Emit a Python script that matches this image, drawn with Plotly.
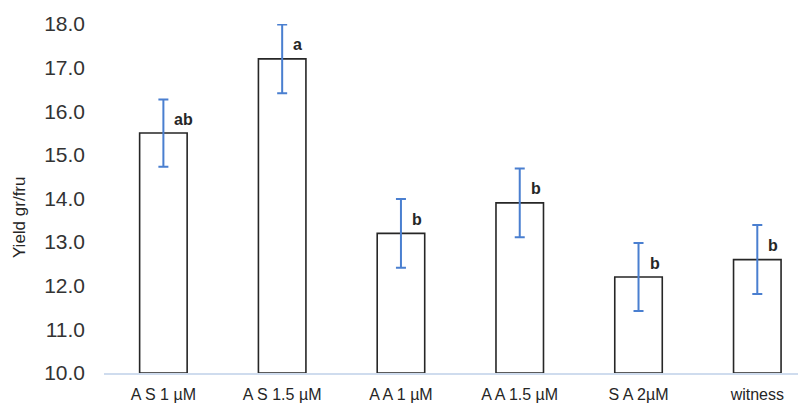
import plotly.graph_objects as go

categories = ["A S 1 µM", "A S 1.5 µM", "A A 1 µM", "A A 1.5 µM", "S A 2µM", "witness"]
yield_values = [15.5, 17.2, 13.2, 13.9, 12.2, 12.6]
error_values = [0.77, 0.79, 0.79, 0.79, 0.78, 0.79]
group_letters = ["ab", "a", "b", "b", "b", "b"]
y_ticks = [10, 11, 12, 13, 14, 15, 16, 17, 18]

x_idx = list(range(len(categories)))

fig = go.Figure()
fig.add_trace(go.Bar(
    x=x_idx, y=[v - 10 for v in yield_values], base=10,
    width=0.40,
    marker=dict(color="white", line=dict(color="#262626", width=1.6)),
    error_y=dict(type="data", array=error_values, visible=True,
                 color="#4a7fd0", thickness=2, width=5),
    showlegend=False,
))

for xi, v, lab in zip(x_idx, yield_values, group_letters):
    fig.add_annotation(x=xi, y=v, text="<b>%s</b>" % lab, showarrow=False,
                       xanchor="left", yanchor="middle", xshift=9, yshift=14,
                       font=dict(family="Liberation Sans, Arial", size=16, color="#262626"))

fig.add_annotation(x=-0.12, y=0.446, xref="paper", yref="paper",
                   text="Yield gr/fru", textangle=-90, showarrow=False,
                   xanchor="center", yanchor="middle",
                   font=dict(family="Liberation Sans, Arial", size=17, color="#262626"))

fig.update_layout(
    width=798, height=395,
    margin=dict(l=96, r=0, t=16, b=28),
    paper_bgcolor="white", plot_bgcolor="white",
    font=dict(family="Liberation Sans, Arial", color="#333333"),
    xaxis=dict(range=[-0.5, 5.41], tickvals=x_idx, ticktext=categories,
               showgrid=False, zeroline=False, showline=True,
               linecolor="#cfdcee", linewidth=1.5, ticks="",
               tickfont=dict(size=16, color="#262626"), ticklabelstandoff=6),
    yaxis=dict(range=[10, 18], tickvals=y_ticks,
               ticktext=["%.1f" % t for t in y_ticks],
               showgrid=False, zeroline=False, showline=False, ticks="",
               tickfont=dict(size=21, color="#333333"), ticklabelstandoff=18),
)

fig.write_html("out.html")
